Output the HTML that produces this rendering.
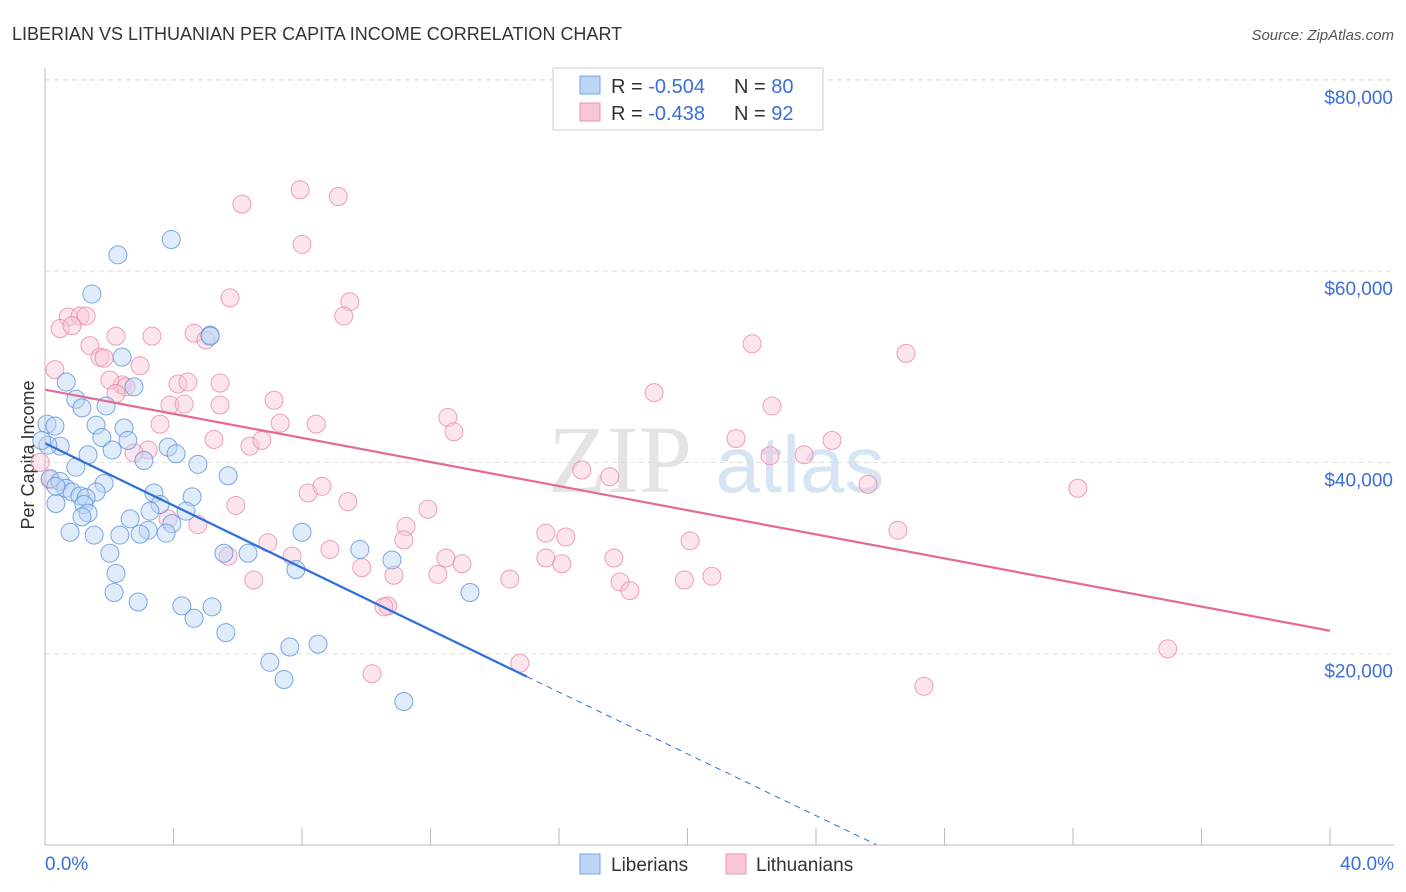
<!DOCTYPE html>
<html><head><meta charset="utf-8"><style>
body{margin:0;background:#fff;font-family:"Liberation Sans",sans-serif;}
#wrap{position:relative;width:1406px;height:892px;overflow:hidden;}
</style></head><body>
<div id="wrap">
<svg id="svg" width="1406" height="892" xmlns="http://www.w3.org/2000/svg">
<text x="12" y="40" font-size="18" fill="#333">LIBERIAN VS LITHUANIAN PER CAPITA INCOME CORRELATION CHART</text>
<text x="1394" y="40" font-size="15" fill="#555" text-anchor="end" font-style="italic">Source: ZipAtlas.com</text>
<text x="620" y="492" font-size="96" fill="#e4e4e4" font-family="Liberation Serif,serif" text-anchor="middle">ZIP</text>
<text x="800" y="492" font-size="80" fill="#d6e4f4" text-anchor="middle">atlas</text>
<text transform="translate(34,455) rotate(-90)" font-size="18" fill="#333" text-anchor="middle">Per Capita Income</text>
<g id="grid"></g><g id="pts"></g><g id="lines"></g>
<line x1="45" y1="68" x2="45" y2="845" stroke="#bbb"/>
<line x1="45" y1="845" x2="1394" y2="845" stroke="#bbb"/>
<text x="45" y="870" font-size="19" fill="#3a6fd8">0.0%</text>
<text x="1394" y="870" font-size="19" fill="#3a6fd8" text-anchor="end">40.0%</text>
<g>
<rect x="553" y="68" width="270" height="62" fill="#fff" stroke="#ccc"/>
<rect x="580" y="76" width="20" height="18" fill="#bcd4f5" stroke="#7aa6e6"/>
<rect x="580" y="103" width="20" height="18" fill="#f9c6d6" stroke="#eb93b0"/>
<text x="611" y="93" font-size="20" fill="#333">R = <tspan fill="#3a6fd8">-0.504</tspan></text>
<text x="734" y="93" font-size="20" fill="#333">N = <tspan fill="#3a6fd8">80</tspan></text>
<text x="611" y="120" font-size="20" fill="#333">R = <tspan fill="#3a6fd8"> -0.438</tspan></text>
<text x="734" y="120" font-size="20" fill="#333">N = <tspan fill="#3a6fd8"> 92</tspan></text>
</g>
<g>
<rect x="580" y="854" width="20" height="20" fill="#bcd4f5" stroke="#7aa6e6"/>
<text x="611" y="871" font-size="19" fill="#333">Liberians</text>
<rect x="726" y="854" width="20" height="20" fill="#f9c6d6" stroke="#eb93b0"/>
<text x="756" y="871" font-size="19" fill="#333">Lithuanians</text>
</g>
</svg>
</div>
<script>
const yTicks=[20000,40000,60000,80000];
const yTickLabels=["$20,000","$40,000","$60,000","$80,000"];
const xTicks=[0,4,8,12,16,20,24,28,32,36,40];
const libX=[3.93,2.27,1.46,5.14,2.4,0.66,2.77,0.96,1.15,1.9,0.06,0.31,1.59,2.46,1.77,2.58,0.47,0.09,1.34,2.09,3.83,4.08,3.08,4.76,0.96,5.7,0.16,0.47,1.84,0.65,0.84,1.59,1.09,1.28,3.39,4.58,0.34,1.21,3.58,4.39,1.34,1.15,2.65,3.95,0.78,1.53,3.21,2.33,2.96,3.77,8.0,5.57,6.32,2.02,9.8,10.8,7.81,2.21,2.15,2.9,4.26,5.2,4.64,5.63,7.62,8.5,7.0,7.44,11.17,13.23,5.14,3.27,-0.1,0.34];
const libY=[63300,61700,57600,53300,51000,48400,47900,46600,45700,45900,44000,43800,43900,43600,42600,42300,41700,41800,40800,41300,41600,40900,40200,39800,39500,38600,38300,38000,37800,37300,36900,36900,36500,36300,36800,36400,35700,35600,35600,34900,34700,34300,34100,33600,32700,32400,32900,32400,32500,32600,32700,30500,30500,30500,30900,29800,28800,28400,26400,25400,25000,24900,23700,22200,20700,21000,19100,17300,15000,26400,53200,34900,42300,37500];
const litX=[7.94,9.13,6.13,8.0,5.76,9.49,0.72,1.09,1.28,0.47,0.84,9.3,4.64,5.01,1.4,3.33,2.21,0.31,1.71,1.84,2.96,2.4,2.52,2.02,4.14,4.45,5.45,7.13,3.89,4.33,5.45,3.58,5.26,2.21,3.21,2.77,6.38,6.75,7.32,8.44,12.54,12.73,18.96,22.01,22.63,26.8,21.51,22.57,24.5,23.63,25.62,32.15,16.71,17.58,5.94,3.83,4.76,8.19,8.62,9.43,11.92,11.24,11.17,6.94,7.69,8.87,9.86,12.48,12.98,15.59,16.21,15.59,16.09,17.71,20.08,17.9,18.21,19.9,20.76,26.55,12.23,10.86,14.47,6.5,5.7,10.67,10.55,14.78,10.18,27.36,34.95,-0.15,0.16];
const litY=[68500,67800,67000,62800,57200,56800,55200,55300,55300,54000,54300,55300,53500,52800,52200,53200,53200,49700,51000,50900,50100,48100,47900,48600,48200,48400,48300,46500,46000,46100,46000,44000,42400,47200,41300,41000,41700,42300,44100,44000,44700,43200,47300,52400,45900,51400,42500,40700,42300,40800,37700,37300,39200,38500,35500,34100,33500,36800,37500,35900,35100,33300,31900,31600,30200,30900,29000,30000,29400,32600,32200,30000,29400,30000,31800,27500,26600,27700,28100,32900,28300,28200,27800,27700,30200,25000,24900,19000,17900,16600,20500,40000,38200];
const libLine=[[0,42000],[15,17600],[25.9,0]];
const litLine=[[0,47600],[40,22400]];
const X0=45,X1=1330,Y0=845,YS=191.3/20000;
const sx=v=>X0+(v/40)*(X1-X0);
const sy=v=>Y0-v*YS;
const NS="http://www.w3.org/2000/svg";
const grid=document.getElementById('grid'),pts=document.getElementById('pts'),lines=document.getElementById('lines'),svg=document.getElementById('svg');
function mk(t,a,p){const e=document.createElementNS(NS,t);for(const k in a)e.setAttribute(k,a[k]);p.appendChild(e);return e;}
yTicks.forEach((v,i)=>{
 const g=mk('line',{x1:45,x2:1394,y1:sy(v),y2:sy(v),stroke:'#ddd','stroke-dasharray':'5,4'},grid);
 
 
 const t=mk('text',{x:1393,y:sy(v)+24,'font-size':19,fill:'#3a6fd8','text-anchor':'end'},svg);
 t.textContent=yTickLabels[i];
 
 
});
mk('line',{x1:45,x2:1394,y1:80,y2:80,stroke:'#ddd','stroke-dasharray':'5,4'},grid);
xTicks.forEach(v=>{
 const l=mk('line',{x1:sx(v),x2:sx(v),y1:828,y2:845,stroke:'#bbb'},grid);
 
 
});
function dots(xs,ys,fill,stroke,name){
 xs.forEach((x,i)=>{
  const c=mk('circle',{cx:sx(x),cy:sy(ys[i]),r:9,fill:fill,'fill-opacity':0.45,stroke:stroke,'stroke-opacity':0.8,'stroke-width':1},pts);
  
  
 });
}
dots(litX,litY,'#f9c6d6','#e88aa8','lithuanian-point');
dots(libX,libY,'#bcd4f5','#5b91e0','liberian-point');
let l1=mk('line',{x1:sx(libLine[0][0]),y1:sy(libLine[0][1]),x2:sx(libLine[1][0]),y2:sy(libLine[1][1]),stroke:'#2f6fd8','stroke-width':2.2},lines);


let l2=mk('line',{x1:sx(libLine[1][0]),y1:sy(libLine[1][1]),x2:sx(libLine[2][0]),y2:sy(libLine[2][1]),stroke:'#2f6fd8','stroke-width':1,'stroke-dasharray':'6,5'},lines);


let l3=mk('line',{x1:sx(litLine[0][0]),y1:sy(litLine[0][1]),x2:sx(litLine[1][0]),y2:sy(litLine[1][1]),stroke:'#e46a96','stroke-width':2.2},lines);


</script>
</body></html>
